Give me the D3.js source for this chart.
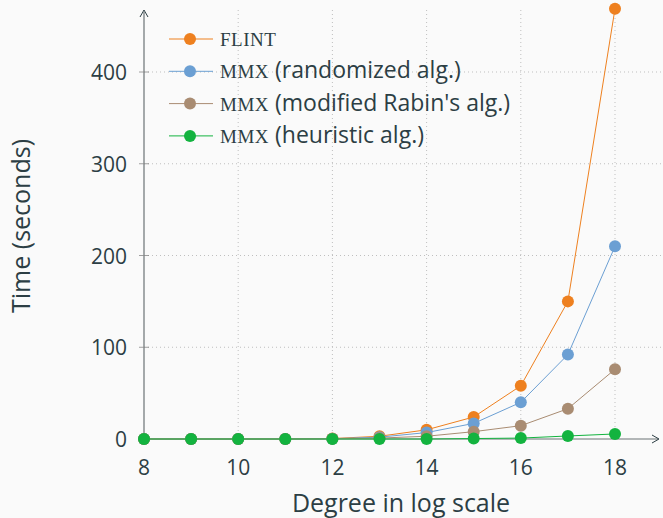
<!DOCTYPE html>
<html>
<head>
<meta charset="utf-8">
<script src="https://d3js.org/d3.v7.min.js"></script>
<style>
  body { margin: 0; background: #fafafa; }
  text { fill: #2c3e44; font-family: "Open Sans", "DejaVu Sans", sans-serif; font-weight: 400; }
  .sc { font-family: "Liberation Serif", serif; font-variant: small-caps; font-weight: 400; }
</style>
</head>
<body>
<div id="chart"></div>
<script>
// degrees (log2) and timings in seconds
const degrees = [8, 9, 10, 11, 12, 13, 14, 15, 16, 17, 18];
const flint      = [0, 0, 0, 0, 0.5, 3, 10, 24, 58, 150, 469];
const mmxRandom  = [0, 0, 0, 0, 0.3, 2, 7, 17, 40, 92, 210];
const mmxRabin   = [0, 0, 0, 0, 0.2, 1, 3, 8, 14.5, 33, 76];
const mmxHeur    = [0, 0, 0, 0, 0, 0, 0, 0.5, 1, 3.3, 5.5];
const xTicks = [8, 10, 12, 14, 16, 18];
const yTicks = [0, 100, 200, 300, 400];

const series = [
  {name: "flint", suffix: "", color: "#ee801f", values: flint},
  {name: "mmx", suffix: " (randomized alg.)", color: "#6b9fd3", values: mmxRandom},
  {name: "mmx", suffix: " (modified Rabin's alg.)", color: "#a98c72", values: mmxRabin},
  {name: "mmx", suffix: " (heuristic alg.)", color: "#13b33f", values: mmxHeur}
];

const width = 663, height = 518;
const svg = d3.select("#chart").append("svg")
  .attr("width", width).attr("height", height);

const x = d3.scaleLinear().domain([8, 18]).range([144, 615]);
const y = d3.scaleLinear().domain([0, 400]).range([439, 72]);

// grid
svg.append("g").selectAll("line").data(yTicks.slice(1)).join("line")
  .attr("x1", 144).attr("x2", 663)
  .attr("y1", d => y(d)).attr("y2", d => y(d))
  .attr("stroke", "#bfbfbf").attr("stroke-dasharray", "1,3");
svg.append("g").selectAll("line").data(xTicks.slice(1)).join("line")
  .attr("x1", d => x(d)).attr("x2", d => x(d))
  .attr("y1", 10).attr("y2", 439)
  .attr("stroke", "#bfbfbf").attr("stroke-dasharray", "1,3");

// axes
const axisColor = "#6b7275";
svg.append("line").attr("x1", 144).attr("x2", 144).attr("y1", 439).attr("y2", 12)
  .attr("stroke", axisColor).attr("stroke-width", 1.2);
svg.append("path").attr("d", "M140,17 L144,10 L148,17")
  .attr("fill", "none").attr("stroke", "#2c3e44").attr("stroke-width", 1);
svg.append("line").attr("x1", 144).attr("x2", 658).attr("y1", 439).attr("y2", 439)
  .attr("stroke", axisColor).attr("stroke-width", 1.2);
svg.append("path").attr("d", "M652,435 L659,439 L652,443")
  .attr("fill", "none").attr("stroke", "#2c3e44").attr("stroke-width", 1);

svg.append("g").selectAll("line").data(yTicks.slice(1)).join("line")
  .attr("x1", 139).attr("x2", 149)
  .attr("y1", d => y(d)).attr("y2", d => y(d))
  .attr("stroke", "#888").attr("stroke-width", 0.8);

svg.append("g").selectAll("text").data(yTicks).join("text")
  .attr("x", 127).attr("y", d => y(d) + 8)
  .attr("text-anchor", "end").attr("font-size", 21)
  .text(d => d);
svg.append("g").selectAll("text").data(xTicks).join("text")
  .attr("x", d => x(d)).attr("y", 475)
  .attr("text-anchor", "middle").attr("font-size", 21)
  .text(d => d);

svg.append("text").attr("x", 401).attr("y", 512)
  .attr("text-anchor", "middle").attr("font-size", 25)
  .text("Degree in log scale");
svg.append("text")
  .attr("transform", "translate(30,226) rotate(-90)")
  .attr("text-anchor", "middle").attr("font-size", 25)
  .text("Time (seconds)");

// lines and markers
const line = d3.line().x((d, i) => x(degrees[i])).y(d => y(d));
series.forEach(s => {
  const g = svg.append("g");
  g.append("path").attr("d", line(s.values))
    .attr("fill", "none").attr("stroke", s.color).attr("stroke-width", 1);
  g.selectAll("circle").data(s.values).join("circle")
    .attr("cx", (d, i) => x(degrees[i])).attr("cy", d => y(d))
    .attr("r", 6).attr("fill", s.color);
});

// legend
const leg = svg.append("g");
series.forEach((s, i) => {
  const ly = 39 + i * 32.3;
  leg.append("line").attr("x1", 169).attr("x2", 213).attr("y1", ly).attr("y2", ly)
    .attr("stroke", s.color).attr("stroke-width", 1);
  leg.append("circle").attr("cx", 190).attr("cy", ly).attr("r", 6).attr("fill", s.color);
  const t = leg.append("text").attr("x", 220).attr("y", ly + 7).attr("font-size", 23);
  t.append("tspan").attr("class", "sc").attr("font-size", 27).attr("letter-spacing", 0.5).text(s.name);
  t.append("tspan").text(s.suffix);
});
</script>
</body>
</html>
